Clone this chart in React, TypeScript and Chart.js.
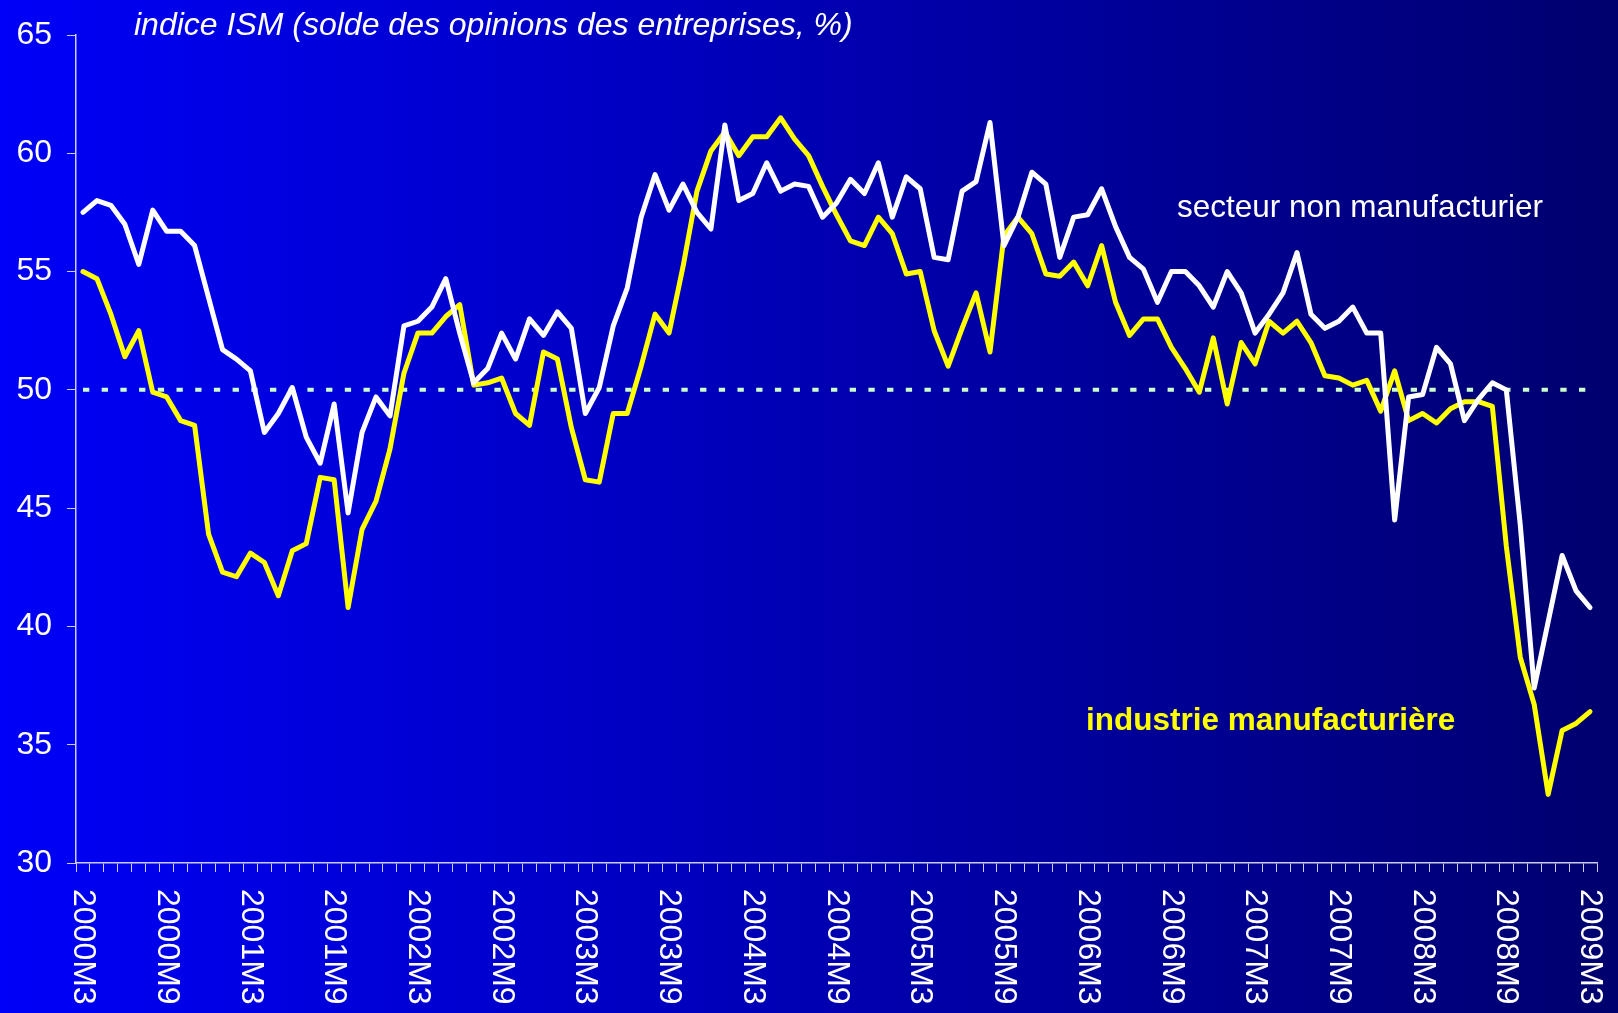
import React, { useEffect, useRef } from 'react';
import { Chart, registerables } from 'chart.js';

Chart.register(...registerables);

// Monthly categories 2000M3 .. 2009M3
const categories: string[] = [];
for (let i = 0; i < 109; i++) {
  const m = 2 + i;
  categories.push(`${2000 + Math.floor(m / 12)}M${(m % 12) + 1}`);
}

const xTickLabels = [
  '2000M3', '2000M9', '2001M3', '2001M9', '2002M3', '2002M9', '2003M3', '2003M9',
  '2004M3', '2004M9', '2005M3', '2005M9', '2006M3', '2006M9', '2007M3', '2007M9',
  '2008M3', '2008M9', '2009M3',
];

const yMin = 30;
const yMax = 65;
const yStep = 5;
const refLevel = 50;

// secteur non manufacturier (white)
const nonManufacturing = [
  57.5, 58.0, 57.8, 57.0, 55.3, 57.6, 56.7, 56.7, 56.1, 53.9,
  51.7, 51.3, 50.8, 48.2, 49.0, 50.1, 48.0, 46.9, 49.4, 44.8,
  48.2, 49.7, 48.9, 52.7, 52.9, 53.5, 54.7, 52.4, 50.3, 50.9,
  52.4, 51.3, 53.0, 52.3, 53.3, 52.6, 49.0, 50.1, 52.7, 54.3,
  57.3, 59.1, 57.6, 58.7, 57.5, 56.8, 61.2, 58.0, 58.3, 59.6,
  58.4, 58.7, 58.6, 57.3, 57.9, 58.9, 58.3, 59.6, 57.3, 59.0,
  58.5, 55.6, 55.5, 58.4, 58.8, 61.3, 56.1, 57.3, 59.2, 58.7,
  55.6, 57.3, 57.4, 58.5, 56.9, 55.6, 55.1, 53.7, 55.0, 55.0,
  54.4, 53.5, 55.0, 54.1, 52.4, 53.2, 54.1, 55.8, 53.2, 52.6,
  52.9, 53.5, 52.4, 52.4, 44.5, 49.7, 49.8, 51.8, 51.1, 48.7,
  49.6, 50.3, 50.0, 44.3, 37.4, 40.2, 43.0, 41.5, 40.8,
];

// industrie manufacturière (yellow)
const manufacturing = [
  55.0, 54.7, 53.2, 51.4, 52.5, 49.9, 49.7, 48.7, 48.5, 43.9,
  42.3, 42.1, 43.1, 42.7, 41.3, 43.2, 43.5, 46.3, 46.2, 40.8,
  44.1, 45.3, 47.5, 50.7, 52.4, 52.4, 53.1, 53.6, 50.2, 50.3,
  50.5, 49.0, 48.5, 51.6, 51.3, 48.4, 46.2, 46.1, 49.0, 49.0,
  51.0, 53.2, 52.4, 55.2, 58.4, 60.1, 60.9, 59.9, 60.7, 60.7,
  61.5, 60.6, 59.9, 58.6, 57.4, 56.3, 56.1, 57.3, 56.6, 54.9,
  55.0, 52.5, 51.0, 52.6, 54.1, 51.6, 56.5, 57.3, 56.6, 54.9,
  54.8, 55.4, 54.4, 56.1, 53.7, 52.3, 53.0, 53.0, 51.8, 50.9,
  49.9, 52.2, 49.4, 52.0, 51.1, 52.9, 52.4, 52.9, 52.0, 50.6,
  50.5, 50.2, 50.4, 49.1, 50.8, 48.7, 49.0, 48.6, 49.2, 49.5,
  49.5, 49.3, 43.4, 38.7, 36.7, 32.9, 35.6, 35.9, 36.4,
];

const titleText = 'indice ISM (solde des opinions des entreprises, %)';
const nonManufLabel = 'secteur non manufacturier';
const manufLabel = 'industrie manufacturière';

const FONT = '"Liberation Sans", Arial, Helvetica, sans-serif';
const AXIS_COLOR = 'rgba(225,225,255,0.9)';

const decorPlugin = {
  id: 'decor',
  beforeDraw(chart: any) {
    const { ctx, width, height } = chart;
    const g = ctx.createLinearGradient(0, 0, width, 0);
    g.addColorStop(0, '#0000F8');
    g.addColorStop(1, '#00006E');
    ctx.save();
    ctx.fillStyle = g;
    ctx.fillRect(0, 0, width, height);
    ctx.restore();
  },
  beforeDatasetsDraw(chart: any) {
    const { ctx, chartArea } = chart;
    const y = chart.scales.y;
    const py = y.getPixelForValue(refLevel);
    ctx.save();
    ctx.strokeStyle = '#CCFFCC';
    ctx.lineWidth = 4;
    ctx.setLineDash([6.3, 12.4]);
    ctx.beginPath();
    ctx.moveTo(chartArea.left + 7, py);
    ctx.lineTo(chartArea.right - 6, py);
    ctx.stroke();
    ctx.restore();
  },
  afterDraw(chart: any) {
    const { ctx, chartArea } = chart;
    const x = chart.scales.x;
    ctx.save();
    // rotated x tick labels (reading top to bottom)
    ctx.fillStyle = '#FFFFFF';
    ctx.font = `32px ${FONT}`;
    ctx.textAlign = 'left';
    ctx.textBaseline = 'middle';
    xTickLabels.forEach((lab) => {
      const idx = categories.indexOf(lab);
      if (idx < 0) return;
      const px = x.getPixelForValue(idx);
      ctx.save();
      ctx.translate(px, chartArea.bottom + 26);
      ctx.rotate(Math.PI / 2);
      ctx.fillText(lab, 0, 0);
      ctx.restore();
    });
    // title
    ctx.textBaseline = 'alphabetic';
    ctx.font = `italic 32px ${FONT}`;
    ctx.fillText(titleText, chartArea.left + 58, chartArea.top);
    // series annotations
    ctx.font = `31.5px ${FONT}`;
    ctx.fillStyle = '#FFFFFF';
    ctx.fillText(nonManufLabel, chartArea.left + 1101, chartArea.top + 182);
    ctx.font = `bold 31.5px ${FONT}`;
    ctx.fillStyle = '#FFFF00';
    ctx.fillText(manufLabel, chartArea.left + 1010, chartArea.top + 695);
    ctx.restore();
  },
};

export default function App() {
  const ref = useRef<HTMLCanvasElement | null>(null);

  useEffect(() => {
    if (!ref.current) return;
    const chart = new Chart(ref.current, {
      type: 'line',
      data: {
        labels: categories,
        datasets: [
          {
            label: nonManufLabel,
            data: nonManufacturing,
            borderColor: '#FFFFFF',
            borderWidth: 5,
            pointRadius: 0,
            tension: 0,
            borderJoinStyle: 'round',
            borderCapStyle: 'round',
            fill: false,
          },
          {
            label: manufLabel,
            data: manufacturing,
            borderColor: '#FFFF00',
            borderWidth: 5,
            pointRadius: 0,
            tension: 0,
            borderJoinStyle: 'round',
            borderCapStyle: 'round',
            fill: false,
          },
        ],
      },
      options: {
        responsive: false,
        animation: false,
        layout: { padding: { left: 0, right: 21, top: 35, bottom: 0 } },
        plugins: {
          legend: { display: false },
          tooltip: { enabled: false },
          title: { display: false },
        },
        scales: {
          x: {
            type: 'category',
            offset: true,
            grid: {
              display: true,
              offset: true,
              drawOnChartArea: false,
              drawTicks: true,
              tickLength: 9,
              color: AXIS_COLOR,
              lineWidth: 1,
            },
            border: { display: true, color: AXIS_COLOR, width: 1.5 },
            ticks: { display: false },
            afterFit: (s: any) => {
              s.height = 150;
            },
          },
          y: {
            min: yMin,
            max: yMax,
            ticks: {
              stepSize: yStep,
              color: '#FFFFFF',
              font: { family: FONT, size: 32 },
              padding: 15,
            },
            grid: {
              display: true,
              drawOnChartArea: false,
              drawTicks: true,
              tickLength: 9,
              color: AXIS_COLOR,
              lineWidth: 1,
            },
            border: { display: true, color: AXIS_COLOR, width: 1.5 },
            afterFit: (s: any) => {
              s.width = 76;
            },
          },
        },
      } as any,
      plugins: [decorPlugin],
    });
    return () => chart.destroy();
  }, []);

  return (
    <div style={{ position: 'fixed', left: 0, top: 0, width: 1618, height: 1013 }}>
      <canvas ref={ref} width={1618} height={1013} style={{ display: 'block' }} />
    </div>
  );
}
